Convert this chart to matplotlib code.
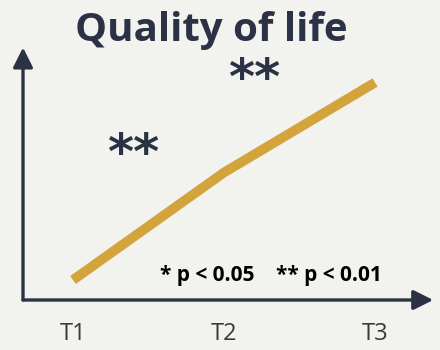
import matplotlib.pyplot as plt

# data
timepoints = ['T1', 'T2', 'T3']
quality = [0.8, 5.1, 8.7]
sig_labels = ['**', '**']
sig_x = [0.4, 1.2]
sig_y = [5.8, 8.8]

bg = '#f2f2ee'
navy = '#2b3245'
gold = '#d4a43c'

fig = plt.figure(figsize=(4.4, 3.5), dpi=100, facecolor=bg)
ax = fig.add_axes([23 / 440, 50 / 350, 409 / 440, 250 / 350])
ax.set_facecolor(bg)

ax.plot(range(len(timepoints)), quality, color=gold, linewidth=7, solid_capstyle='butt')

ax.set_xlim(-0.331, 2.377)
ax.set_ylim(0, 10)
for s in ax.spines.values():
	s.set_visible(False)
ax.set_xticks(range(len(timepoints)))
ax.set_xticklabels(timepoints, fontsize=17, color='#3a3a3a', family='Open Sans')
ax.tick_params(axis='x', length=0, pad=16)
ax.set_yticks([])

# axis arrows
ax.annotate('', xy=(1.003, 0), xytext=(0, 0), xycoords='axes fraction',
	arrowprops=dict(arrowstyle='-|>,head_length=1.2,head_width=0.6', color=navy, lw=2.4, shrinkA=0, shrinkB=0))
ax.annotate('', xy=(0, 1.01), xytext=(0, 0), xycoords='axes fraction',
	arrowprops=dict(arrowstyle='-|>,head_length=1.2,head_width=0.6', color=navy, lw=2.4, shrinkA=0, shrinkB=0))

for lab, x, y in zip(sig_labels, sig_x, sig_y):
	ax.text(x, y, lab, fontsize=36, fontweight='bold', color=navy, ha='center', va='center', family='DejaVu Sans')

ax.text(0.576, 1.0, '* p < 0.05    ** p < 0.01', fontsize=15, fontweight='bold', color='black',
	ha='left', va='center', family='Open Sans')

fig.text(211 / 440, 1 - 30 / 350, 'Quality of life', fontsize=29, fontweight='bold', color=navy,
	ha='center', va='center', family='Open Sans')

fig.savefig('out.png', dpi=100, facecolor=bg)
